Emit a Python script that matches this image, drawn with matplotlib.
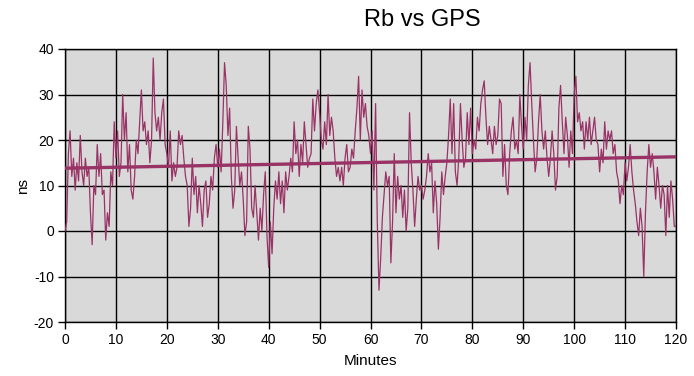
import matplotlib
matplotlib.use("Agg")
import matplotlib.pyplot as plt
import numpy as np

# Rb vs GPS time offset, 3 readings per minute
ns_by_minute = [
    [0, 2, 17], [22, 12, 16], [9, 15, 11], [21, 13, 10], [16, 12, 14],
    [4, -3, 10], [8, 19, 12], [17, 8, 9], [-2, 4, 1], [13, 10, 24],
    [16, 22, 12], [15, 30, 20], [26, 13, 19], [9, 7, 12], [20, 17, 24],
    [31, 22, 24], [19, 22, 15], [20, 38, 26], [22, 25, 20], [26, 29, 19],
    [17, 14, 22], [11, 15, 12], [14, 22, 19], [21, 16, 12], [10, 1, 5],
    [16, 8, 12], [4, 10, 6], [1, 9, 11], [3, 6, 12], [9, 16, 19],
    [14, 18, 13], [24, 37, 32], [21, 27, 12], [5, 9, 23], [16, 10, 13],
    [7, -1, 2], [23, 18, 5], [3, 10, 4], [-2, 5, 0], [8, 13, -1],
    [-8, 2, -5], [5, 11, 7], [13, 6, 11], [4, 13, 9], [12, 16, 13],
    [24, 17, 20], [12, 19, 15], [24, 19, 14], [16, 17, 29], [22, 28, 31],
    [26, 20, 18], [24, 19, 30], [21, 25, 22], [16, 12, 14], [11, 14, 10],
    [16, 19, 13], [14, 18, 16], [22, 27, 34], [20, 31, 25], [28, 23, 21],
    [17, 22, 9], [28, 2, -13], [-6, 3, 8], [13, 10, 12], [-7, 2, 17],
    [4, 12, 7], [10, 3, 9], [0, 5, 26], [15, 9, 1], [7, 12, 9],
    [10, 7, 9], [12, 17, 13], [15, 4, 11], [6, -4, 3], [13, 8, 12],
    [15, 21, 29], [17, 28, 13], [10, 16, 28], [20, 14, 16], [26, 19, 27],
    [17, 20, 18], [25, 22, 28], [31, 33, 25], [19, 23, 20], [17, 23, 19],
    [21, 29, 28], [12, 19, 10], [8, 17, 22], [25, 18, 20], [17, 30, 23],
    [18, 25, 20], [32, 37, 28], [20, 13, 16], [24, 30, 22], [18, 22, 16],
    [12, 16, 22], [17, 9, 12], [27, 32, 24], [17, 25, 21], [14, 22, 17],
    [30, 34, 24], [26, 22, 24], [18, 24, 20], [25, 19, 22], [25, 20, 19],
    [13, 18, 15], [24, 18, 22], [20, 22, 17], [19, 13, 11], [6, 10, 8],
    [15, 11, 14], [19, 13, 9], [6, 2, -1], [5, 1, -10], [4, 13, 19],
    [14, 17, 13], [7, 14, 10], [5, 10, 8], [-1, 10, 3], [11, 7, 1],
]
last_ns = 1

# linear trend line end points
trend_minutes = [0, 120]
trend_ns = [13.8, 16.3]

ns = np.array([v for row in ns_by_minute for v in row] + [last_ns], dtype=float)
minutes = np.arange(len(ns)) / 3.0

plt.rcParams['font.family'] = ['Liberation Sans', 'DejaVu Sans']
plt.rcParams['axes.unicode_minus'] = False

fig = plt.figure(figsize=(6.94, 3.76), dpi=100)
ax = fig.add_axes([65 / 694, 1 - 322 / 376, 611 / 694, 273 / 376])
ax.set_facecolor('#d9d9d9')

ax.plot(minutes, ns, color='#993366', linewidth=0.9, zorder=3)
ax.plot(trend_minutes, trend_ns, color='#993366', linewidth=2.4, zorder=4)

ax.set_xlim(0, 120)
ax.set_ylim(-20, 40)
ax.set_xticks(np.arange(0, 121, 10))
ax.set_yticks(np.arange(-20, 41, 10))
ax.grid(True, color='black', linewidth=1.0, zorder=1)
ax.set_axisbelow(True)
for s in ax.spines.values():
    s.set_color('black')
    s.set_linewidth(1.0)
ax.tick_params(direction='out', length=5, width=1, labelsize=10, pad=3)

ax.set_xlabel('Minutes', fontsize=11)
ax.set_ylabel('ns', fontsize=11)
ax.xaxis.set_label_coords(0.5, (322 - 354) / 273)
ax.yaxis.set_label_coords((30 - 65) / 611, 0.5)
fig.text(422 / 694, 1 - 20 / 376, 'Rb vs GPS', fontsize=17, ha='center', va='center')

fig.savefig('out.png', dpi=100)
